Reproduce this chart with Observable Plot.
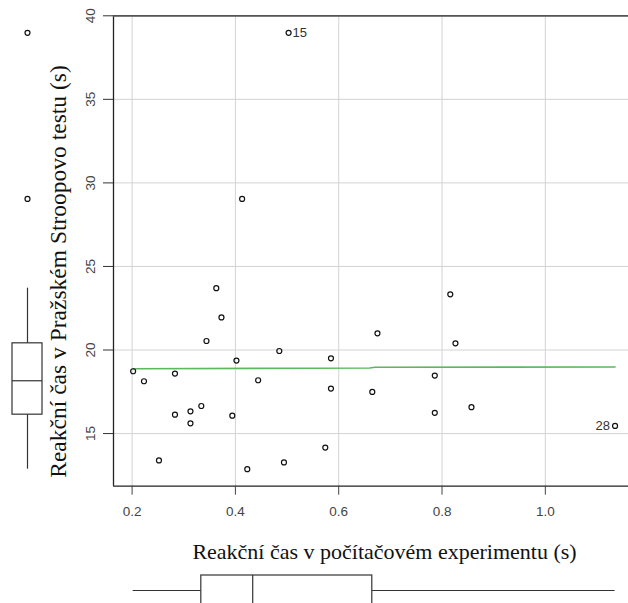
<!DOCTYPE html>
<html><head><meta charset="utf-8">
<script src="https://cdn.jsdelivr.net/npm/d3@7"></script>
<script src="https://cdn.jsdelivr.net/npm/@observablehq/plot@0.6"></script>
<style>
body{margin:0;background:#fff;}
#chart{position:relative;width:628px;height:603px;overflow:hidden;background:#fff;}
#chart svg{position:absolute;max-width:none;overflow:visible;}
</style></head><body><div id="chart"></div>
<script>
const xTitle = "Reakční čas v počítačovém experimentu (s)";
const yTitle = "Reakční čas v Pražském Stroopovo testu (s)";
const ids = [1,2,3,4,5,6,7,8,9,10,11,12,13,14,15,16,17,18,19,20,21,22,23,24,25,26,27,28,29,30];
const pcTime = [0.202,0.223,0.252,0.283,0.283,0.313,0.313,0.334,0.344,0.363,0.373,0.394,0.402,0.413,0.503,0.423,0.444,0.485,0.494,0.574,0.585,0.585,0.665,0.675,0.786,0.786,0.816,1.135,0.826,0.857];
const stroopTime = [18.73,18.13,13.39,18.59,16.13,16.33,15.61,16.65,20.54,23.70,21.95,16.07,19.37,29.04,38.98,12.87,18.19,19.94,13.27,14.16,19.50,17.69,17.49,21.00,18.47,16.24,23.33,15.46,20.40,16.58];
const labelRight = [15];
const labelLeft = [28];
const xTicks = [0.2,0.4,0.6,0.8,1.0];
const yTicks = [15,20,25,30,35,40];
const smoothX = [0.202,0.66,0.67,1.135];
const smoothY = [18.88,18.92,18.97,18.98];

const points = ids.map((id,i)=>({id, x: pcTime[i], y: stroopTime[i]}));
const smooth = smoothX.map((x,i)=>({x, y: smoothY[i]}));

function boxStats(vals){
  const s = vals.slice().sort((a,b)=>a-b), n = s.length;
  const n4 = Math.floor((n+3)/2)/2;
  const at = d => 0.5*(s[Math.floor(d)-1] + s[Math.ceil(d)-1]);
  const q1 = at(n4), med = at((n+1)/2), q3 = at(n+1-n4);
  const iqr = q3-q1, lo = q1-1.5*iqr, hi = q3+1.5*iqr;
  const inside = s.filter(v=>v>=lo && v<=hi);
  return {q1, med, q3, wlo: d3.min(inside), whi: d3.max(inside), out: s.filter(v=>v<lo||v>hi)};
}

const xDomain = [0.164, 1.161];
const yDomain = [11.85, 40.0];
const W = 628, H = 603, mL = 113, mT = 15.3, mB = 117.3;
const serif = "'Liberation Serif','Times New Roman',serif";
const sans = "'Liberation Sans',Arial,sans-serif";
const ink = "#333";

const main = Plot.plot({
  width: W, height: H,
  marginLeft: mL, marginRight: 0, marginTop: mT, marginBottom: mB,
  style: {fontFamily: sans, background: "transparent", overflow: "visible"},
  x: {domain: xDomain},
  y: {domain: yDomain},
  marks: [
    Plot.gridX(xTicks, {stroke: "#d3d3d3", strokeOpacity: 1}),
    Plot.gridY(yTicks, {stroke: "#d3d3d3", strokeOpacity: 1}),
    Plot.ruleX([xDomain[0]], {stroke: "#222", strokeWidth: 1.3}),
    Plot.ruleY([yDomain[0]], {stroke: "#222", strokeWidth: 1.3}),
    Plot.ruleY([yDomain[1]], {stroke: "#555", strokeWidth: 1.8}),
    Plot.axisX({ticks: xTicks, tickSize: 9, tickPadding: 11, fontSize: 13.5, tickFormat: d3.format(".1f"), label: null, color: "#444"}),
    Plot.axisY({ticks: yTicks, tickSize: 10, tickFormat: () => "", label: null, color: ink}),
    Plot.text(yTicks, {y: d => d, text: d => String(d), frameAnchor: "left", textAnchor: "middle", lineAnchor: "middle", dx: -23, rotate: -90, fontSize: 13.5, fill: "#444"}),
    Plot.line(smooth, {x: "x", y: "y", stroke: "#5cb85c", strokeWidth: 1.6}),
    Plot.dot(points, {x: "x", y: "y", r: 2.5, stroke: "#111", strokeWidth: 1.2}),
    Plot.text(points.filter(p => labelRight.includes(p.id)), {x: "x", y: "y", text: d => String(d.id), textAnchor: "start", dx: 4, fontSize: 13, fill: ink}),
    Plot.text(points.filter(p => labelLeft.includes(p.id)), {x: "x", y: "y", text: d => String(d.id), textAnchor: "end", dx: -5, fontSize: 13, fill: ink}),
    Plot.text([yTitle], {text: d => d, frameAnchor: "left", textAnchor: "middle", lineAnchor: "middle", dx: -55, dy: 20.5, rotate: -90, fontFamily: serif, fontSize: 23.5, fill: "#111"}),
    Plot.text([xTitle], {text: d => d, frameAnchor: "bottom", textAnchor: "middle", lineAnchor: "middle", dx: 13.5, dy: 65.6, fontFamily: serif, fontSize: 22, fill: "#111"})
  ]
});
main.style.left = "0px"; main.style.top = "0px";

const ys = boxStats(stroopTime);
const leftBox = Plot.plot({
  width: 55, height: H,
  marginLeft: 11.7, marginRight: 13, marginTop: mT, marginBottom: mB,
  style: {background: "transparent", overflow: "visible"},
  x: {type: "band", domain: ["y"], padding: 0, axis: null},
  y: {domain: yDomain, axis: null},
  marks: [
    Plot.ruleX([ys], {x: () => "y", y1: "wlo", y2: "q1", stroke: ink, strokeWidth: 1.2}),
    Plot.ruleX([ys], {x: () => "y", y1: "q3", y2: "whi", stroke: ink, strokeWidth: 1.2}),
    Plot.barY([ys], {x: () => "y", y1: "q1", y2: "q3", fill: "white", stroke: ink, strokeWidth: 1.2}),
    Plot.tickY([ys], {x: () => "y", y: "med", stroke: ink, strokeWidth: 1.2}),
    Plot.dot(ys.out, {x: () => "y", y: d => d, r: 2.5, stroke: "#111", strokeWidth: 1.2})
  ]
});
leftBox.style.left = "0px"; leftBox.style.top = "0px";

const xs = boxStats(pcTime);
const bottomBox = Plot.plot({
  width: W, height: 60,
  marginLeft: mL, marginRight: 0, marginTop: 15, marginBottom: 15,
  style: {background: "transparent", overflow: "visible"},
  x: {domain: xDomain, axis: null},
  y: {type: "band", domain: ["x"], padding: 0, axis: null},
  marks: [
    Plot.ruleY([xs], {y: () => "x", x1: "wlo", x2: "q1", stroke: ink, strokeWidth: 1.2}),
    Plot.ruleY([xs], {y: () => "x", x1: "q3", x2: "whi", stroke: ink, strokeWidth: 1.2}),
    Plot.barX([xs], {y: () => "x", x1: "q1", x2: "q3", fill: "white", stroke: ink, strokeWidth: 1.2}),
    Plot.tickX([xs], {y: () => "x", x: "med", stroke: ink, strokeWidth: 1.2}),
    Plot.dot(xs.out, {y: () => "x", x: d => d, r: 2.5, stroke: "#111", strokeWidth: 1.2})
  ]
});
bottomBox.style.left = "0px"; bottomBox.style.top = "560px";

const c = document.getElementById("chart");
c.appendChild(main); c.appendChild(leftBox); c.appendChild(bottomBox);
</script></body></html>
